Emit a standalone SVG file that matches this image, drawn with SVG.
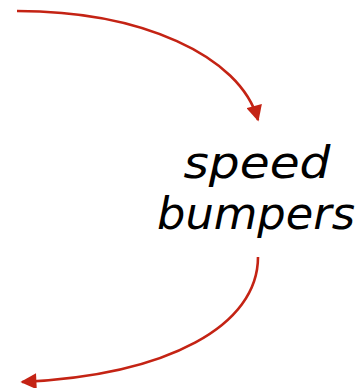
<svg xmlns="http://www.w3.org/2000/svg" width="362" height="388" viewBox="0 0 362 388">
<style>
.c{fill:none;stroke:#c42314;stroke-width:2.6}
.t{font-family:"DejaVu Sans",sans-serif;font-style:oblique;font-size:45px;fill:#000;text-anchor:middle}
</style>
<defs>
<marker id="ah" viewBox="0 0 10 10" refX="9" refY="5" markerUnits="userSpaceOnUse" markerWidth="17" markerHeight="16" orient="auto">
<path d="M0,0 L10,5 L0,10 Z" fill="#c42314"/>
</marker>
</defs>
<rect width="362" height="388" fill="#fff"/>
<g id="connectors">
<path class="c" d="M17,11 C140,11 240,55 258,120" marker-end="url(#ah)"/>
<path class="c" d="M258,257 C258,325 170,375 22,382" marker-end="url(#ah)"/>
</g>
<g id="speed-bumpers">
<text class="t" x="257" y="178" textLength="147" lengthAdjust="spacingAndGlyphs">speed</text>
<text class="t" x="256" y="229" textLength="198" lengthAdjust="spacingAndGlyphs">bumpers</text>
</g>
</svg>
